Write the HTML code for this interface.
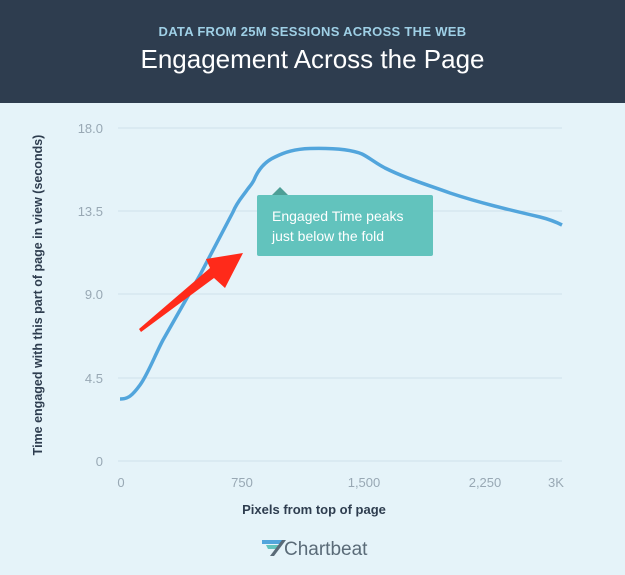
<!DOCTYPE html><html><head><style>
body{margin:0;width:625px;height:575px;background:#e5f3f9;font-family:"Liberation Sans",sans-serif;overflow:hidden}
.hd{position:absolute;left:0;top:0;width:625px;height:103px;background:#2e3d4f;text-align:center}
</style></head><body>
<div class="hd">
<div style="position:absolute;top:24px;width:100%;color:#9fd0e6;font-size:13px;font-weight:bold;letter-spacing:0.3px">DATA FROM 25M SESSIONS ACROSS THE WEB</div>
<div style="position:absolute;top:44px;width:100%;color:#fff;font-size:26px">Engagement Across the Page</div>
</div>
<svg width="625" height="575" style="position:absolute;left:0;top:0">
<g stroke="#cfe0ea" stroke-width="1">
<line x1="118" x2="562" y1="128" y2="128"/><line x1="118" x2="562" y1="211" y2="211"/><line x1="118" x2="562" y1="294" y2="294"/><line x1="118" x2="562" y1="378" y2="378"/><line x1="118" x2="562" y1="461" y2="461"/>
</g>
<g font-size="13" fill="#98a8b4" text-anchor="end">
<text x="103" y="133">18.0</text><text x="103" y="216">13.5</text><text x="103" y="299">9.0</text><text x="103" y="383">4.5</text><text x="103" y="466">0</text>
</g>
<g font-size="13" fill="#98a8b4" text-anchor="middle">
<text x="121" y="487">0</text><text x="242" y="487">750</text><text x="364" y="487">1,500</text><text x="485" y="487">2,250</text><text x="556" y="487">3K</text>
</g>
<text x="314" y="514" font-size="13" font-weight="bold" fill="#2e3d4f" text-anchor="middle">Pixels from top of page</text>
<text transform="translate(42,295) rotate(-90)" font-size="12.5" font-weight="bold" fill="#2e3d4f" text-anchor="middle">Time engaged with this part of page in view (seconds)</text>
<path d="M120,399 C128,399 132,396 140,385 S155,355 163,340 L200,275 L233,212 C237,202 243,196 247,190 C250,186 252,184 254,180 C258,170 264,162 275,157 C285,152 295,149 310,148.5 C330,148 350,149 362,154 C370,158 372,161 385,168 C405,178 425,184 450,193 C480,203 510,210 540,217 C550,219.5 556,222 562,225" fill="none" stroke="#52a5dc" stroke-width="3.5" stroke-linejoin="round"/>
<polygon points="272,195 280,187 288,195" fill="#4d9e96"/>
<rect x="257" y="195" width="176" height="61" rx="2" fill="#62c3bd"/>
<text x="272" y="221" font-size="14" fill="#fff">Engaged Time peaks</text>
<text x="272" y="241" font-size="14" fill="#fff">just below the fold</text>
<polygon points="139,329 141,332 214,278 225,288 243,253 206,259 210,268" fill="#ff2a1a"/>
<g transform="translate(262,540)">
<polygon points="0,0 20,0 20,4 0,4" fill="#52a5dc"/>
<polygon points="4,5 17,5 15,9 6,9" fill="#62c3bd"/>
<polygon points="20,0 24,0 12,16 8,16" fill="#5a6b78"/>
</g>
<text x="284" y="555" font-size="19" fill="#5a6b78">Chartbeat</text>
</svg>
</body></html>
